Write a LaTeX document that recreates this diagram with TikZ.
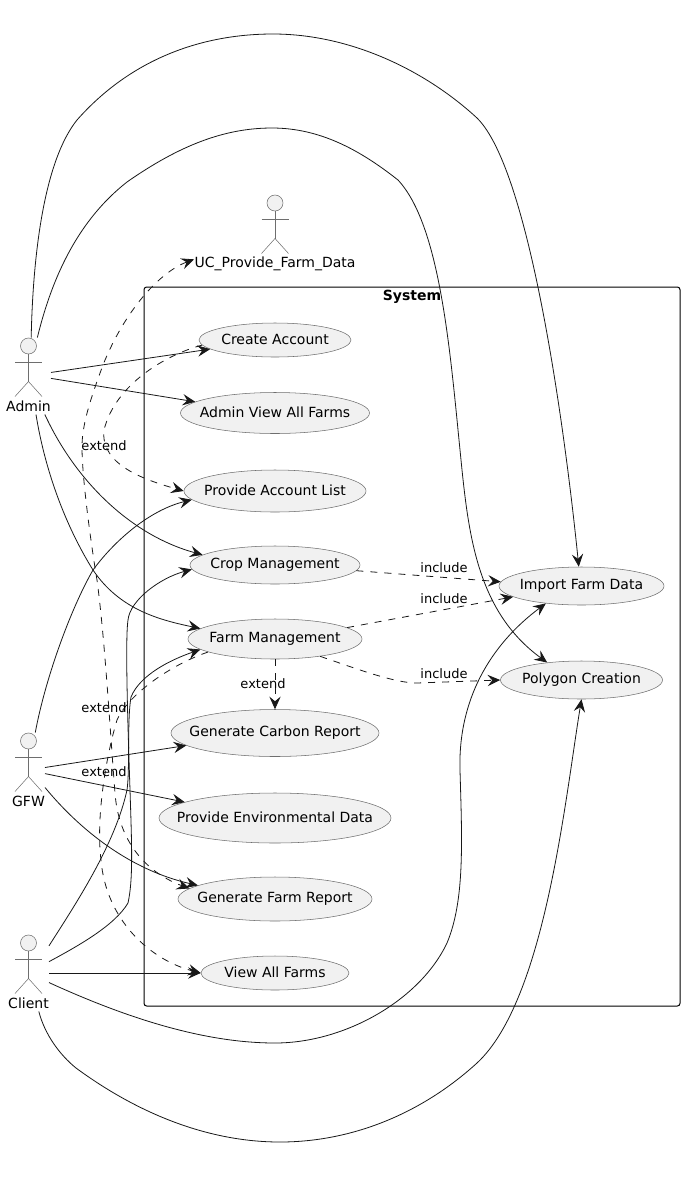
\documentclass[tikz,border=0pt]{standalone}
\usepackage{fontspec}
\setmainfont{DejaVu Sans}
\usepackage{tikz}
\usetikzlibrary{shapes, arrows.meta}

\definecolor{umlline}{HTML}{181818}
\definecolor{umlthin}{HTML}{6E6E6E}
\definecolor{umlfill}{HTML}{F1F1F1}

\tikzset{
    usecase/.style={draw=umlthin, fill=umlfill, ellipse, inner sep=0pt, line width=.4pt, font=\fontsize{10.5}{12}\selectfont},
    rel/.style={->, draw=umlline, line width=.6pt},
    dep/.style={rel, dash pattern=on 5.25pt off 5.25pt},
    tag/.style={inner sep=0pt, font=\fontsize{9.75}{11}\selectfont},
    actorpart/.style={draw=umlthin, line width=.4pt},
    actorframe/.style={inner sep=0pt, outer sep=0pt, minimum height=57.75pt},
    actorname/.style={inner sep=0pt, font=\fontsize{10.5}{12}\selectfont}
}

\newcommand{\uctext}[1]{\makebox[0pt]{\raisebox{1pt}{#1}}}
\newcommand{\stickman}[5]{%
    \node (#1) [actorframe, minimum width=#5] at (#2,#3+30) {};
    \node (#1head) [actorpart, fill=umlfill, circle, inner sep=0pt, minimum size=12pt] at (#2,#3) {};
    \draw [actorpart] (#1head) -- (#2,#3+35.5);
    \draw [actorpart] (#2-13.5,#3+16) -- (#2+13.5,#3+16);
    \draw [actorpart] (#2-13.5,#3+50.5) -- (#2,#3+35.5) -- (#2+13.5,#3+50.5);
    \node (#1name) [actorname] at (#2,#3+60.5) {#4};
}

\begin{document}
\begin{tikzpicture}[x=.75pt, y=-.75pt, >={Stealth[length=9.5pt, width=8.5pt, inset=3.5pt]}]
        \useasboundingbox (0,0) rectangle (685,1179);

        \node (system) [draw=black, line width=.75pt, rounded corners=2pt, minimum width=402pt, minimum height=539.25pt] at (412,646.5) {};
        \node (systemtitle) [inner sep=0pt, font=\fontsize{10.5}{12}\selectfont\bfseries] at (412,297) {System};

        \stickman{admin}{28.5}{346}{Admin}{33.75pt}
        \stickman{gfw}{28.5}{741}{GFW}{24.75pt}
        \stickman{client}{28.5}{943}{Client}{30.75pt}
        \stickman{ucprovide}{275}{203}{UC\_Provide\_Farm\_Data}{121.5pt}

        \node (createaccount) [usecase, minimum width=114pt, minimum height=25.5pt] at (275,340) {\uctext{Create Account}};
        \node (adminview) [usecase, minimum width=141.75pt, minimum height=30.75pt, below of=createaccount, node distance=54.75pt] {\uctext{Admin View All Farms}};
        \node (accountlist) [usecase, minimum width=136.5pt, minimum height=31.5pt, below of=adminview, node distance=58.5pt] {\uctext{Provide Account List}};
        \node (crop) [usecase, minimum width=127.5pt, minimum height=28.5pt, below of=accountlist, node distance=55.5pt] {\uctext{Crop Management}};
        \node (farm) [usecase, minimum width=130.5pt, minimum height=30pt, below of=crop, node distance=55.5pt] {\uctext{Farm Management}};
        \node (carbon) [usecase, minimum width=156pt, minimum height=35.25pt, below of=farm, node distance=70.5pt] {\uctext{Generate Carbon Report}};
        \node (environment) [usecase, minimum width=174pt, minimum height=37.5pt, below of=carbon, node distance=63.75pt] {\uctext{Provide Environmental Data}};
        \node (farmreport) [usecase, minimum width=145.5pt, minimum height=33pt, below of=environment, node distance=60.75pt] {\uctext{Generate Farm Report}};
        \node (viewfarms) [usecase, minimum width=111pt, minimum height=25.5pt, below of=farmreport, node distance=55.5pt] {\uctext{View All Farms}};
        \node (import) [usecase, minimum width=123.75pt, minimum height=28.5pt] at (581.5,586) {\uctext{Import Farm Data}};
        \node (polygon) [usecase, minimum width=121.5pt, minimum height=28.5pt, below of=import, node distance=70.5pt] {\uctext{Polygon Creation}};

        \draw [rel] (admin.86) .. controls (33,250) and (45,160) .. (77,120) .. controls (130,60) and (200,34) .. (273,34) .. controls (350,34) and (425,70) .. (477,118) .. controls (530,170) and (565,430) .. (import.98);
        \draw [rel] (admin.77.5) .. controls (55,265) and (85,215) .. (127,182) .. controls (180,145) and (225,128) .. (272,128) .. controls (320,128) and (360,150) .. (398,180) .. controls (440,225) and (450,350) .. (460,450) .. controls (468,530) and (475,610) .. (polygon.153);
        \draw [rel] (admin.9) -- (createaccount.188);
        \draw [rel] (admin.-6) -- (adminview.172);
        \draw [rel] (admin.-67) .. controls (75,480) and (130,535) .. (crop.172);
        \draw [rel] (admin.-79) .. controls (45,470) and (65,525) .. (93,570) .. controls (120,610) and (160,620) .. (farm.172);

        \draw [rel] (gfw.80) .. controls (45,680) and (70,610) .. (93,570) .. controls (115,540) and (150,510) .. (accountlist.186);
        \draw [rel] (gfw.12) -- (carbon.188);
        \draw [rel] (gfw.-9) -- (environment.170);
        \draw [rel] (gfw.-45) .. controls (80,830) and (130,870) .. (farmreport.170);

        \draw [rel] (client.29) .. controls (80,945) and (115,925) .. (128,903) .. controls (133,880) and (132,850) .. (130,790) .. controls (128,730) and (125,640) .. (128,620) .. controls (130,600) and (160,578) .. (crop.183.5);
        \draw [rel] (client.53) .. controls (75,905) and (115,845) .. (127,790) .. controls (130,770) and (127,720) .. (131,697) .. controls (140,675) and (170,660) .. (farm.188.5);
        \draw [rel] (client.east) -- (viewfarms.west);
        \draw [rel] (client.-25) .. controls (120,1015) and (200,1043) .. (275,1043) .. controls (345,1043) and (420,1000) .. (447,943) .. controls (465,900) and (462,840) .. (460,770) .. controls (458,700) and (490,645) .. (import.206.5);
        \draw [rel] (client.-75) .. controls (45,1035) and (60,1055) .. (76,1068) .. controls (140,1115) and (210,1142) .. (280,1142) .. controls (350,1142) and (420,1115) .. (477,1063) .. controls (545,1000) and (565,800) .. (polygon.south);

        \draw [dep] (crop.356) -- (import.177);
        \draw [dep] (farm.9.5) -- (import.189.5);
        \draw [dep] (farm.339) .. controls (360,670) and (395,683) .. (417,683) -- (polygon.west);
        \draw [dep] (farm.south) -- (carbon.north);
        \draw [dep] (createaccount.184) .. controls (165,355) and (115,385) .. (104,430) .. controls (100,465) and (145,480) .. (accountlist.west);
        \draw [dep] (farm.191) .. controls (170,665) and (128,695) .. (117,720) .. controls (105,760) and (96,820) .. (101,860) .. controls (106,920) and (150,960) .. (viewfarms.west);
        \draw [dep, <->] (ucprovide.198) .. controls (160,272) and (125,310) .. (103,365) .. controls (90,400) and (82,425) .. (82,447) .. controls (82,480) and (92,550) .. (97,580) .. controls (105,640) and (110,730) .. (115,793) .. controls (118,835) and (140,870) .. (farmreport.173);

        \node (includeone) [tag] at (444,568) {include};
        \node (includetwo) [tag] at (444,599) {include};
        \node (includethree) [tag] at (444,674) {include};
        \node (extendone) [tag] at (104,446) {extend};
        \node (extendtwo) [tag] at (104,708) {extend};
        \node (extendthree) [tag] at (104,772) {extend};
        \node (extendfour) [tag] at (263,684) {extend};
    \end{tikzpicture}
\end{document}
